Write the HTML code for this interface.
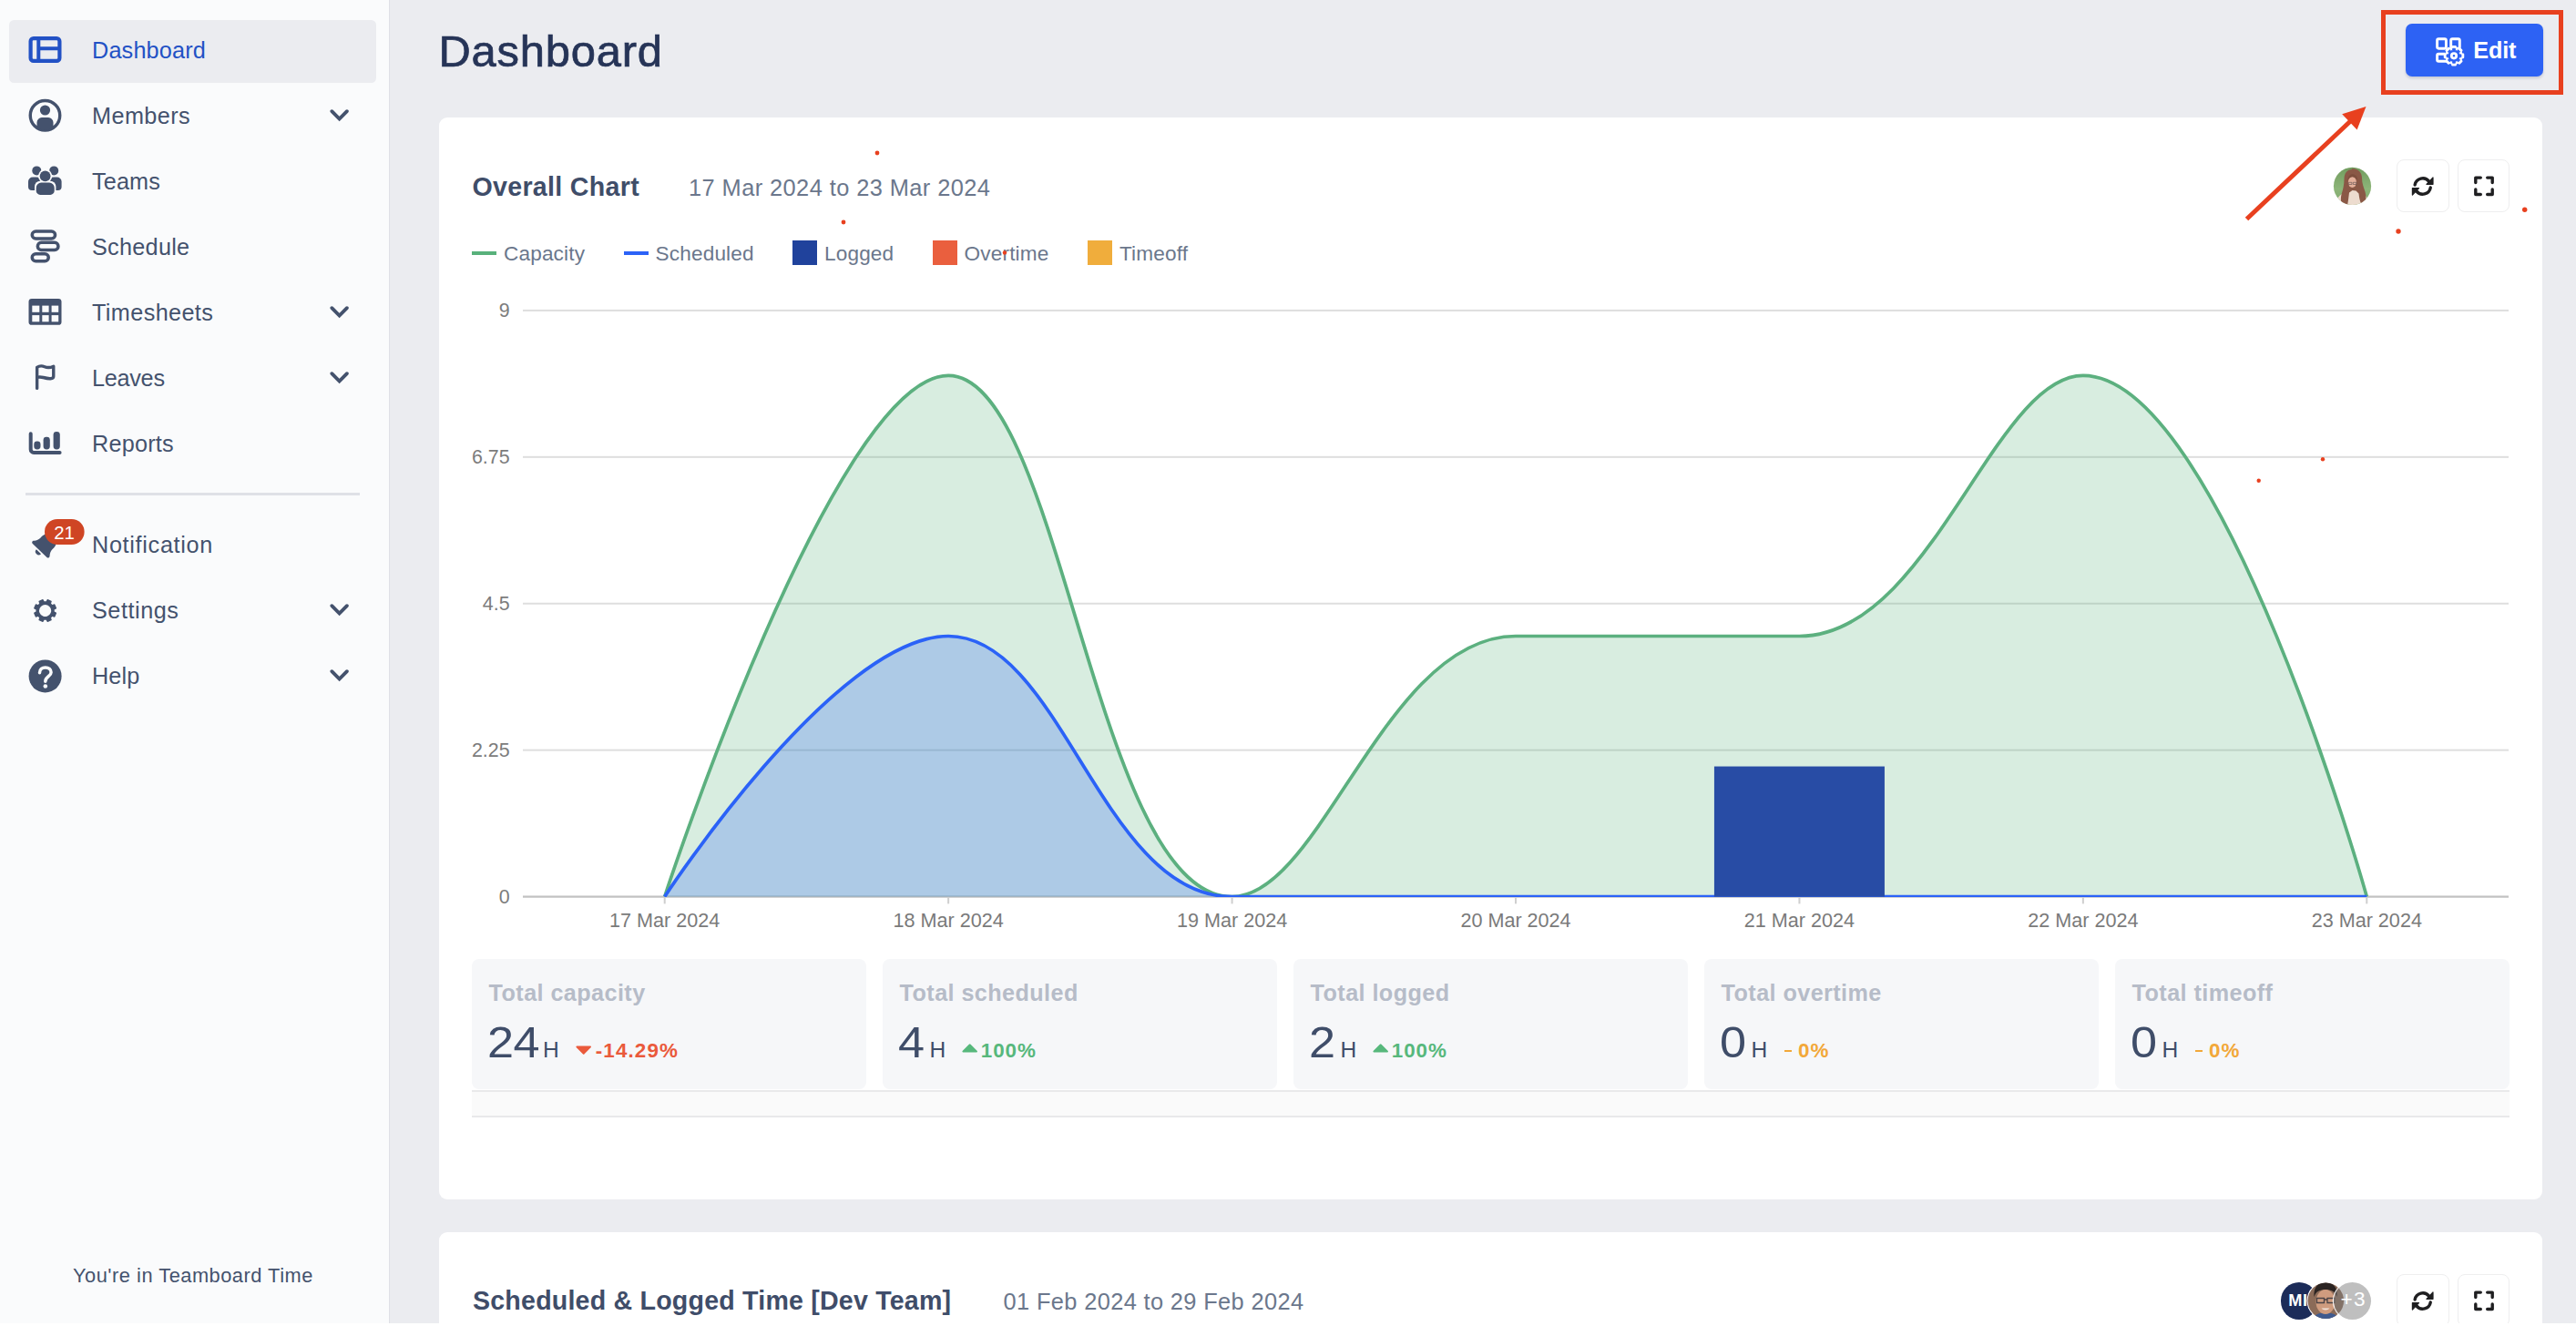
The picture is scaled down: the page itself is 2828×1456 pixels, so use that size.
<!DOCTYPE html>
<html lang="en"><head><meta charset="utf-8"><title>Dashboard</title><style>
html,body{margin:0;padding:0}
body{width:2828px;height:1456px;overflow:hidden;background:#ebecf0;position:relative;font-family:"Liberation Sans",sans-serif;}
.t{position:absolute;white-space:nowrap}
.b{position:absolute}
svg{position:absolute;overflow:visible}
</style></head><body>
<div class="b" style="left:0px;top:0px;width:427px;height:1456px;background:#fafbfc;border-right:1px solid #dfe0e6;"></div>
<div class="b" style="left:10px;top:22px;width:403px;height:69px;background:#ebecf0;border-radius:5.5px;"></div>
<div class="t " style="top:43.17px;font-size:25.2px;line-height:25.2px;color:#2251c5;left:101.00px;letter-spacing:0.2px;">Dashboard</div>
<div class="t " style="top:115.17px;font-size:25.2px;line-height:25.2px;color:#44526d;left:101.00px;letter-spacing:0.45px;">Members</div>
<svg style="left:360px;top:116.6px" width="26" height="20" viewBox="0 0 26 20"><path d="M4.3 5.2 L12.6 13.6 L20.9 5.2" fill="none" stroke="#44526d" stroke-width="3.9" stroke-linecap="round" stroke-linejoin="miter"/></svg>
<div class="t " style="top:187.17px;font-size:25.2px;line-height:25.2px;color:#44526d;left:101.00px;letter-spacing:0.15px;">Teams</div>
<div class="t " style="top:259.17px;font-size:25.2px;line-height:25.2px;color:#44526d;left:101.00px;letter-spacing:0.3px;">Schedule</div>
<div class="t " style="top:331.17px;font-size:25.2px;line-height:25.2px;color:#44526d;left:101.00px;letter-spacing:0.4px;">Timesheets</div>
<svg style="left:360px;top:332.6px" width="26" height="20" viewBox="0 0 26 20"><path d="M4.3 5.2 L12.6 13.6 L20.9 5.2" fill="none" stroke="#44526d" stroke-width="3.9" stroke-linecap="round" stroke-linejoin="miter"/></svg>
<div class="t " style="top:403.17px;font-size:25.2px;line-height:25.2px;color:#44526d;left:101.00px;letter-spacing:-0.25px;">Leaves</div>
<svg style="left:360px;top:404.6px" width="26" height="20" viewBox="0 0 26 20"><path d="M4.3 5.2 L12.6 13.6 L20.9 5.2" fill="none" stroke="#44526d" stroke-width="3.9" stroke-linecap="round" stroke-linejoin="miter"/></svg>
<div class="t " style="top:475.17px;font-size:25.2px;line-height:25.2px;color:#44526d;left:101.00px;letter-spacing:0.25px;">Reports</div>
<div class="t " style="top:586.17px;font-size:25.2px;line-height:25.2px;color:#44526d;left:101.00px;letter-spacing:0.7px;">Notification</div>
<div class="t " style="top:658.17px;font-size:25.2px;line-height:25.2px;color:#44526d;left:101.00px;letter-spacing:0.55px;">Settings</div>
<svg style="left:360px;top:659.6px" width="26" height="20" viewBox="0 0 26 20"><path d="M4.3 5.2 L12.6 13.6 L20.9 5.2" fill="none" stroke="#44526d" stroke-width="3.9" stroke-linecap="round" stroke-linejoin="miter"/></svg>
<div class="t " style="top:730.17px;font-size:25.2px;line-height:25.2px;color:#44526d;left:101.00px;letter-spacing:0.15px;">Help</div>
<svg style="left:360px;top:731.6px" width="26" height="20" viewBox="0 0 26 20"><path d="M4.3 5.2 L12.6 13.6 L20.9 5.2" fill="none" stroke="#44526d" stroke-width="3.9" stroke-linecap="round" stroke-linejoin="miter"/></svg>
<div class="b" style="left:28px;top:541px;width:367px;height:3px;background:#dfe1e6;"></div>
<svg style="left:30px;top:38px" width="40" height="34" viewBox="30 38 40 34"><rect x="33.6" y="42.1" width="31.8" height="24.8" rx="3.2" fill="none" stroke="#2251c5" stroke-width="4.2"/><path d="M42.3 42v25M42.3 53.2H65.4" fill="none" stroke="#2251c5" stroke-width="4"/></svg>
<svg style="left:30px;top:106px" width="40" height="42" viewBox="30 106 40 42"><defs><clipPath id="mc"><circle cx="49.5" cy="126.7" r="16"/></clipPath></defs><circle cx="49.5" cy="126.7" r="16.25" fill="none" stroke="#44526d" stroke-width="3.4"/><circle cx="49.5" cy="121" r="5.6" fill="#44526d"/><path clip-path="url(#mc)" d="M40.5 146V134.5a5.4 5.4 0 0 1 5.4-5.4h7.2a5.4 5.4 0 0 1 5.4 5.4V146z" fill="#44526d"/></svg>
<svg style="left:28px;top:180px" width="44" height="38" viewBox="28 180 44 38"><circle cx="40.3" cy="187.4" r="5" fill="#44526d"/><path d="M31 205V199.6a5 5 0 0 1 5-5H40a5 5 0 0 1 5 5V205a4.0 4.0 0 0 1 -4.0 4.0H35.0a4.0 4.0 0 0 1 -4.0 -4.0z" fill="#44526d"/><circle cx="59.2" cy="187.4" r="5" fill="#44526d"/><path d="M54 205V199.6a5 5 0 0 1 5-5H62.599999999999994a5 5 0 0 1 5 5V205a4.0 4.0 0 0 1 -4.0 4.0H58.0a4.0 4.0 0 0 1 -4.0 -4.0z" fill="#44526d"/><circle cx="49.6" cy="193.3" r="7.6" fill="#fafbfc"/><rect x="38" y="198.8" width="23.4" height="18" rx="6" fill="#fafbfc"/><circle cx="49.6" cy="193.3" r="5.9" fill="#44526d"/><path d="M39.7 209.4V206.2a5.6 5.6 0 0 1 5.6-5.6H54.1a5.6 5.6 0 0 1 5.6 5.6V209.4a4.4799999999999995 4.4799999999999995 0 0 1 -4.4799999999999995 4.4799999999999995H44.18a4.4799999999999995 4.4799999999999995 0 0 1 -4.4799999999999995 -4.4799999999999995z" fill="#44526d"/></svg>
<svg style="left:30px;top:250px" width="40" height="42" viewBox="30 250 40 42"><rect x="35.25" y="253.95" width="25.299999999999997" height="8.100000000000023" rx="4.050000000000011" fill="none" stroke="#44526d" stroke-width="3.5"/><rect x="41.35" y="266.35" width="22.6" height="8.099999999999966" rx="4.049999999999983" fill="none" stroke="#44526d" stroke-width="3.5"/><rect x="35.25" y="278.75" width="18.0" height="8.0" rx="4.0" fill="none" stroke="#44526d" stroke-width="3.5"/></svg>
<svg style="left:30px;top:326px" width="40" height="34" viewBox="30 326 40 34"><rect x="31.5" y="328" width="36" height="28.8" rx="3.4" fill="#44526d"/><rect x="35.3" y="335.6" width="8" height="7.2" fill="#fafbfc"/><rect x="46.3" y="335.6" width="7.3" height="7.2" fill="#fafbfc"/><rect x="56.6" y="335.6" width="7.6" height="7.2" fill="#fafbfc"/><rect x="35.3" y="346.1" width="8" height="7.2" fill="#fafbfc"/><rect x="46.3" y="346.1" width="7.3" height="7.2" fill="#fafbfc"/><rect x="56.6" y="346.1" width="7.6" height="7.2" fill="#fafbfc"/></svg>
<svg style="left:34px;top:398px" width="32" height="34" viewBox="34 398 32 34"><path d="M40.65 426.4V403.4C43 401.7 46 401.4 49 402.7C52 404 55.5 403.7 58.75 402.2V413.2C58.75 415.2 57.5 415.6 55.5 415.7C52.5 415.9 50 415.2 47.5 414.5C45 413.8 43 413.7 40.65 414.4" fill="none" stroke="#44526d" stroke-width="3.4" stroke-linecap="round" stroke-linejoin="round"/></svg>
<svg style="left:28px;top:470px" width="44" height="34" viewBox="28 470 44 34"><path d="M33.7 476.3V493.6a3.3 3.3 0 0 0 3.3 3.3H65.6" fill="none" stroke="#44526d" stroke-width="4" stroke-linecap="round"/><rect x="37.3" y="484.6" width="7.2" height="8.8" rx="3.4" fill="#44526d"/><rect x="47.6" y="479.8" width="7.2" height="13.6" rx="3.4" fill="#44526d"/><rect x="58.6" y="474" width="7.2" height="19.4" rx="3.4" fill="#44526d"/></svg>
<svg style="left:30px;top:566px" width="70" height="52" viewBox="30 566 70 52"><g transform="translate(43.6 604.5) rotate(44) scale(0.89) translate(-49 -612.4)"><path d="M49 584.6c-1.2 0-2.1 0.9-2.1 2.1v0.9c-4.8 1-8.1 5.2-8.1 10.200000000000001v2.5c0 3-1.1 5.9-3.1 8.1l-0.5 0.6c-0.5 0.6-0.7 1.5-0.3 2.2 0.3 0.8 1.1 1.2 1.9 1.2h24.4c0.8 0 1.6-0.5 1.9-1.2 0.3-0.8 0.2-1.6-0.3-2.2l-0.5-0.6c-2-2.2-3.1-5.1-3.1-8.1v-2.5c0-5-3.4-9.200000000000001-8.1-10.200000000000001v-0.9c0-1.2-0.9-2.1-2.1-2.1z" fill="#44526d"/><path d="M53 614.2a4 4 0 0 1 -8 0z" fill="#44526d"/></g><rect x="49" y="570" width="43.6" height="28" rx="14" fill="#cf4524"/></svg>
<div class="t " style="top:574.93px;font-size:20.4px;line-height:20.4px;color:#fff;left:-329.40px;width:800px;text-align:center;">21</div>
<svg style="left:34px;top:655px" width="32" height="32" viewBox="34 655 32 32"><path transform="rotate(22.5 49.6 670.5)" d="M47.54 658.68 L51.66 658.68 L51.82 661.26 L54.56 662.40 L56.50 660.68 L59.42 663.60 L57.70 665.54 L58.84 668.28 L61.42 668.44 L61.42 672.56 L58.84 672.72 L57.70 675.46 L59.42 677.40 L56.50 680.32 L54.56 678.60 L51.82 679.74 L51.66 682.32 L47.54 682.32 L47.38 679.74 L44.64 678.60 L42.70 680.32 L39.78 677.40 L41.50 675.46 L40.36 672.72 L37.78 672.56 L37.78 668.44 L40.36 668.28 L41.50 665.54 L39.78 663.60 L42.70 660.68 L44.64 662.40 L47.38 661.26Z M42.300000000000004 670.5a7.3 7.3 0 1 0 14.6 0a7.3 7.3 0 1 0 -14.6 0Z" fill="#44526d" fill-rule="evenodd" stroke="#44526d" stroke-width="1.5" stroke-linejoin="round"/></svg>
<svg style="left:30px;top:722px" width="40" height="40" viewBox="30 722 40 40"><circle cx="49.6" cy="742.4" r="18" fill="#44526d"/><path d="M43.5 738.7C43.5 735 46.3 732.9 49.8 732.9C53.4 732.9 56.1 735.1 56.1 738.3C56.1 742.7 49.8 742.9 49.8 748.3" fill="none" stroke="#fafbfc" stroke-width="3.5" stroke-linecap="round"/><circle cx="49.8" cy="753.5" r="2.3" fill="#fafbfc"/></svg>
<div class="t " style="top:1389.55px;font-size:21.8px;line-height:21.8px;color:#44526d;left:80.00px;letter-spacing:0.52px;">You're in Teamboard Time</div>
<div class="t " style="top:32.01px;font-size:48.9px;line-height:48.9px;color:#263457;left:481.40px;-webkit-text-stroke:0.7px #263457;letter-spacing:0.8px;">Dashboard</div>
<div class="b" style="left:482px;top:129px;width:2309px;height:1188px;background:#fff;border-radius:9px;"></div>
<div class="b" style="left:482px;top:1353px;width:2309px;height:147px;background:#fff;border-radius:9px;"></div>
<div class="b" style="left:2641px;top:26px;width:151px;height:58px;background:#2d62f4;border-radius:7px;box-shadow:0 2px 3px rgba(30,40,90,0.18);"></div>
<div class="t " style="top:42.67px;font-size:25.2px;line-height:25.2px;color:#fff;font-weight:700;left:2715.20px;letter-spacing:-0.1px;">Edit</div>
<svg style="left:2670px;top:38px" width="40" height="38" viewBox="2670 38 40 38"><g fill="none" stroke="#fff" stroke-width="2.9" stroke-linejoin="round"><rect x="2675.6" y="42.7" width="9.8" height="10.5" rx="1.6"/><rect x="2690.7" y="42.7" width="9.6" height="10.5" rx="1.6"/><path d="M2684.5 59.2H2677.2a1.6 1.6 0 0 0 -1.6 1.6V65.7a1.6 1.6 0 0 0 1.6 1.6H2686"/></g><path d="M2692.23 51.15 L2695.77 51.15 L2696.03 52.84 L2698.55 53.88 L2699.92 52.87 L2702.43 55.38 L2701.42 56.75 L2702.46 59.27 L2704.15 59.53 L2704.15 63.07 L2702.46 63.33 L2701.42 65.85 L2702.43 67.22 L2699.92 69.73 L2698.55 68.72 L2696.03 69.76 L2695.77 71.45 L2692.23 71.45 L2691.97 69.76 L2689.45 68.72 L2688.08 69.73 L2685.57 67.22 L2686.58 65.85 L2685.54 63.33 L2683.85 63.07 L2683.85 59.53 L2685.54 59.27 L2686.58 56.75 L2685.57 55.38 L2688.08 52.87 L2689.45 53.88 L2691.97 52.84Z M2693.99 61.3a0.01 0.01 0 1 0 0.02 0a0.01 0.01 0 1 0 -0.02 0Z" fill="#fff" stroke="#fff" stroke-width="2.2" stroke-linejoin="round"/><path d="M2692.61 53.32 L2695.39 53.32 L2695.47 55.17 L2697.29 55.93 L2698.66 54.67 L2700.63 56.64 L2699.37 58.01 L2700.13 59.83 L2701.98 59.91 L2701.98 62.69 L2700.13 62.77 L2699.37 64.59 L2700.63 65.96 L2698.66 67.93 L2697.29 66.67 L2695.47 67.43 L2695.39 69.28 L2692.61 69.28 L2692.53 67.43 L2690.71 66.67 L2689.34 67.93 L2687.37 65.96 L2688.63 64.59 L2687.87 62.77 L2686.02 62.69 L2686.02 59.91 L2687.87 59.83 L2688.63 58.01 L2687.37 56.64 L2689.34 54.67 L2690.71 55.93 L2692.53 55.17Z M2693.99 61.3a0.01 0.01 0 1 0 0.02 0a0.01 0.01 0 1 0 -0.02 0Z" fill="#2d62f4" stroke="#2d62f4" stroke-width="0.8" stroke-linejoin="round"/><circle cx="2694.0" cy="61.3" r="2.7" fill="none" stroke="#fff" stroke-width="2.8"/></svg>
<div class="t " style="top:190.79px;font-size:28.6px;line-height:28.6px;color:#3f4d69;font-weight:700;left:518.50px;letter-spacing:0.3px;">Overall Chart</div>
<div class="t " style="top:193.50px;font-size:25.4px;line-height:25.4px;color:#6b778c;left:756.00px;letter-spacing:0.42px;">17 Mar 2024 to 23 Mar 2024</div>
<div class="b" style="left:518px;top:275.8px;width:27px;height:4.399999999999977px;background:#58b17b;"></div>
<div class="t " style="top:267.87px;font-size:22.6px;line-height:22.6px;color:#6b778c;left:553.00px;letter-spacing:0.15px;">Capacity</div>
<div class="b" style="left:685px;top:275.8px;width:27px;height:4.399999999999977px;background:#2b62f7;"></div>
<div class="t " style="top:267.87px;font-size:22.6px;line-height:22.6px;color:#6b778c;left:719.60px;letter-spacing:0.15px;">Scheduled</div>
<div class="b" style="left:870px;top:264px;width:27px;height:27px;background:#20429c;"></div>
<div class="t " style="top:267.87px;font-size:22.6px;line-height:22.6px;color:#6b778c;left:905.00px;letter-spacing:0.15px;">Logged</div>
<div class="b" style="left:1024px;top:264px;width:27px;height:27px;background:#ea5f3e;"></div>
<div class="t " style="top:267.87px;font-size:22.6px;line-height:22.6px;color:#6b778c;left:1058.60px;letter-spacing:0.15px;">Overtime</div>
<div class="b" style="left:1194px;top:264px;width:27px;height:27px;background:#f0ad3c;"></div>
<div class="t " style="top:267.87px;font-size:22.6px;line-height:22.6px;color:#6b778c;left:1229.00px;letter-spacing:0.15px;">Timeoff</div>
<div class="b" style="left:2631px;top:175px;width:58px;height:58px;background:#fff;border:1.4px solid #eeeeef;border-radius:8px;box-sizing:border-box;"></div>
<div class="b" style="left:2698px;top:175px;width:57px;height:58px;background:#fff;border:1.4px solid #eeeeef;border-radius:8px;box-sizing:border-box;"></div>
<svg style="left:2640px;top:185px" width="40" height="40" viewBox="2640 185 40 40"><g fill="none" stroke="#1f1f21" stroke-width="3.4" stroke-linecap="round"><path d="M2651.13 202.99A8.7 8.7 0 0 1 2666.56 199.14"/><path d="M2668.27 206.01A8.7 8.7 0 0 1 2652.84 209.86"/></g><path d="M2671.0 194.9V202.3H2663.8999999999996Z" fill="#1f1f21" stroke="#1f1f21" stroke-width="1.2" stroke-linejoin="round"/><path d="M2648.3999999999996 214.1V206.7H2655.5Z" fill="#1f1f21" stroke="#1f1f21" stroke-width="1.2" stroke-linejoin="round"/></svg>
<svg style="left:2706px;top:185px" width="40" height="40" viewBox="2706 185 40 40"><g fill="none" stroke="#1f1f21" stroke-width="3.4" stroke-linejoin="round" stroke-linecap="round"><path d="M2717.8 200.60000000000002V195.10000000000002H2723.3"/><path d="M2717.8 208.0V213.5H2723.3"/><path d="M2736.2 200.60000000000002V195.10000000000002H2730.7"/><path d="M2736.2 208.0V213.5H2730.7"/></g></svg>
<svg style="left:2560px;top:182px" width="46" height="46" viewBox="2560 182 46 46"><defs><clipPath id="av1"><circle cx="2582.5" cy="204.4" r="20.6"/></clipPath><linearGradient id="avg" x1="0" y1="0" x2="0" y2="1"><stop offset="0" stop-color="#6f9a5c"/><stop offset="0.55" stop-color="#8db579"/><stop offset="1" stop-color="#7fa86c"/></linearGradient></defs><g clip-path="url(#av1)"><rect x="2560" y="182" width="46" height="46" fill="url(#avg)"/><path d="M2564 228c0-9 4-14 9-16l6-3h8l6 3c5 2 7 7 8 16z" fill="#eddccf"/><path d="M2582.500 186c-6 0-9 4.500-9 10.500 0 7-1.500 12-3 17-1 4-1 9 1.500 13l5-1c1-5 1.500-10 2-14l3.500-2.500 4 0.500 3 3c0.500 4 1 8 3 12l4-2c1.500-4 1-8 0-12-1.500-5-3.500-9-3.500-15 0-6-4-10.500-11.500-10.500z" fill="#8a5846"/><ellipse cx="2582.400" cy="200" rx="4.500" ry="5.900" fill="#e4b09b"/><path d="M2577 198.500c0.500-4.500 2.500-7 5.500-7.500 3.500 0.500 5.500 2.500 6 7-2-2.500-4-3.800-6-3.800s-3.800 1.300-5.500 4.300z" fill="#7e4f3e"/><path d="M2578.300 200.300h3.600v2.200h-3.600zM2583.300 200.300h3.600v2.200h-3.600z" fill="none" stroke="#6b5a58" stroke-width="0.700"/></g></svg>
<svg style="left:0;top:0" width="2828" height="1456" viewBox="0 0 2828 1456" font-family="Liberation Sans, sans-serif"><rect x="574" y="339.90" width="2180" height="2" fill="#dedede"/><text x="559.6" y="348.00" text-anchor="end" font-size="21.4" fill="#7c7c7c">9</text><rect x="574" y="500.82" width="2180" height="2" fill="#dedede"/><text x="559.6" y="508.93" text-anchor="end" font-size="21.4" fill="#7c7c7c">6.75</text><rect x="574" y="661.75" width="2180" height="2" fill="#dedede"/><text x="559.6" y="669.85" text-anchor="end" font-size="21.4" fill="#7c7c7c">4.5</text><rect x="574" y="822.67" width="2180" height="2" fill="#dedede"/><text x="559.6" y="830.77" text-anchor="end" font-size="21.4" fill="#7c7c7c">2.25</text><rect x="574" y="983.60" width="2180" height="2" fill="#dedede"/><text x="559.6" y="991.70" text-anchor="end" font-size="21.4" fill="#7c7c7c">0</text><rect x="574" y="983.60" width="2180" height="2" fill="#c2c2c2"/><rect x="728.71" y="984.60" width="2" height="7.8" fill="#cfcfcf"/><text x="729.71" y="1018" text-anchor="middle" font-size="21.6" fill="#7a7a7a">17 Mar 2024</text><rect x="1040.14" y="984.60" width="2" height="7.8" fill="#cfcfcf"/><text x="1041.14" y="1018" text-anchor="middle" font-size="21.6" fill="#7a7a7a">18 Mar 2024</text><rect x="1351.57" y="984.60" width="2" height="7.8" fill="#cfcfcf"/><text x="1352.57" y="1018" text-anchor="middle" font-size="21.6" fill="#7a7a7a">19 Mar 2024</text><rect x="1663.00" y="984.60" width="2" height="7.8" fill="#cfcfcf"/><text x="1664.00" y="1018" text-anchor="middle" font-size="21.6" fill="#7a7a7a">20 Mar 2024</text><rect x="1974.43" y="984.60" width="2" height="7.8" fill="#cfcfcf"/><text x="1975.43" y="1018" text-anchor="middle" font-size="21.6" fill="#7a7a7a">21 Mar 2024</text><rect x="2285.86" y="984.60" width="2" height="7.8" fill="#cfcfcf"/><text x="2286.86" y="1018" text-anchor="middle" font-size="21.6" fill="#7a7a7a">22 Mar 2024</text><rect x="2597.29" y="984.60" width="2" height="7.8" fill="#cfcfcf"/><text x="2598.29" y="1018" text-anchor="middle" font-size="21.6" fill="#7a7a7a">23 Mar 2024</text><defs><clipPath id="ca"><rect x="574" y="338.9" width="2180" height="646.00"/></clipPath></defs><g clip-path="url(#ca)"><path d="M729.71 984.60 C729.71 984.60 916.57 412.42 1041.14 412.42 C1165.71 412.42 1201.50 984.60 1352.57 984.60 C1450.64 984.60 1520.52 698.51 1664.00 698.51 C1769.66 698.51 1869.77 698.51 1975.43 698.51 C2118.91 698.51 2188.79 412.42 2286.86 412.42 C2437.93 412.42 2598.29 984.60 2598.29 984.60 L2598.29 984.6 L729.71 984.6 Z" fill="rgba(88,177,123,0.235)"/><path d="M729.71 984.60 C729.71 984.60 916.57 412.42 1041.14 412.42 C1165.71 412.42 1201.50 984.60 1352.57 984.60 C1450.64 984.60 1520.52 698.51 1664.00 698.51 C1769.66 698.51 1869.77 698.51 1975.43 698.51 C2118.91 698.51 2188.79 412.42 2286.86 412.42 C2437.93 412.42 2598.29 984.60 2598.29 984.60" fill="none" stroke="#5cb07f" stroke-width="3.7"/><path d="M729.71 984.60 C729.71 984.60 916.57 698.51 1041.14 698.51 C1165.71 698.51 1209.09 984.60 1352.57 984.60 C1458.23 984.60 1539.43 984.60 1664.00 984.60 C1788.57 984.60 1850.86 984.60 1975.43 984.60 C2100.00 984.60 2162.29 984.60 2286.86 984.60 C2411.43 984.60 2598.29 984.60 2598.29 984.60 L2598.29 984.6 L729.71 984.6 Z" fill="rgba(43,98,247,0.25)"/><path d="M729.71 984.60 C729.71 984.60 916.57 698.51 1041.14 698.51 C1165.71 698.51 1209.09 984.60 1352.57 984.60 C1458.23 984.60 1539.43 984.60 1664.00 984.60 C1788.57 984.60 1850.86 984.60 1975.43 984.60 C2100.00 984.60 2162.29 984.60 2286.86 984.60 C2411.43 984.60 2598.29 984.60 2598.29 984.60" fill="none" stroke="#2b62f7" stroke-width="3.7"/><rect x="1881.93" y="841.56" width="187" height="143.04" fill="#284ca5"/></g></svg>
<div class="b" style="left:518px;top:1053px;width:433px;height:142.70000000000005px;background:#f6f7f9;border-radius:8px;"></div>
<div class="t " style="top:1078.27px;font-size:25.2px;line-height:25.2px;color:#b6bcc8;font-weight:700;left:536.60px;letter-spacing:0.42px;">Total capacity</div>
<div class="t " style="top:1121.29px;font-size:47.5px;line-height:47.5px;color:#3f4d69;left:535.00px;letter-spacing:-0.5px;transform:scaleX(1.1);transform-origin:0 0;">24</div>
<div class="t " style="top:1140.68px;font-size:24.6px;line-height:24.6px;color:#3f4d69;left:596.10px;">H</div>
<svg style="left:631.5000000000001px;top:1146.8px" width="18" height="12" viewBox="0 0 18 12"><path d="M1.2 1.6H16.2a0.8 0.8 0 0 1 0.6 1.3L9.6 10.300000000000001a1.2 1.2 0 0 1 -1.8 0L0.6 2.9a0.8 0.8 0 0 1 0.6-1.3z" fill="#ea5a3c"/></svg>
<div class="t " style="top:1142.54px;font-size:22.4px;line-height:22.4px;color:#ea5a3c;font-weight:700;left:653.70px;letter-spacing:1.15px;">-14.29%</div>
<div class="b" style="left:969px;top:1053px;width:433px;height:142.70000000000005px;background:#f6f7f9;border-radius:8px;"></div>
<div class="t " style="top:1078.27px;font-size:25.2px;line-height:25.2px;color:#b6bcc8;font-weight:700;left:987.60px;letter-spacing:0.42px;">Total scheduled</div>
<div class="t " style="top:1121.29px;font-size:47.5px;line-height:47.5px;color:#3f4d69;left:986.00px;letter-spacing:-0.5px;transform:scaleX(1.1);transform-origin:0 0;">4</div>
<div class="t " style="top:1140.68px;font-size:24.6px;line-height:24.6px;color:#3f4d69;left:1020.50px;">H</div>
<svg style="left:1055.8999999999999px;top:1144.500px" width="18" height="12" viewBox="0 0 18 12"><path d="M1.2 10.4H16.2a0.8 0.8 0 0 0 0.6-1.3L9.6 1.7a1.2 1.2 0 0 0 -1.8 0L0.6 9.1a0.8 0.8 0 0 0 0.6 1.3z" fill="#57b87c"/></svg>
<div class="t " style="top:1142.54px;font-size:22.4px;line-height:22.4px;color:#57b87c;font-weight:700;left:1076.70px;letter-spacing:1.0px;">100%</div>
<div class="b" style="left:1420px;top:1053px;width:433px;height:142.70000000000005px;background:#f6f7f9;border-radius:8px;"></div>
<div class="t " style="top:1078.27px;font-size:25.2px;line-height:25.2px;color:#b6bcc8;font-weight:700;left:1438.60px;letter-spacing:0.42px;">Total logged</div>
<div class="t " style="top:1121.29px;font-size:47.5px;line-height:47.5px;color:#3f4d69;left:1437.00px;letter-spacing:-0.5px;transform:scaleX(1.1);transform-origin:0 0;">2</div>
<div class="t " style="top:1140.68px;font-size:24.6px;line-height:24.6px;color:#3f4d69;left:1471.50px;">H</div>
<svg style="left:1506.9px;top:1144.500px" width="18" height="12" viewBox="0 0 18 12"><path d="M1.2 10.4H16.2a0.8 0.8 0 0 0 0.6-1.3L9.6 1.7a1.2 1.2 0 0 0 -1.8 0L0.6 9.1a0.8 0.8 0 0 0 0.6 1.3z" fill="#57b87c"/></svg>
<div class="t " style="top:1142.54px;font-size:22.4px;line-height:22.4px;color:#57b87c;font-weight:700;left:1527.70px;letter-spacing:1.0px;">100%</div>
<div class="b" style="left:1871px;top:1053px;width:433px;height:142.70000000000005px;background:#f6f7f9;border-radius:8px;"></div>
<div class="t " style="top:1078.27px;font-size:25.2px;line-height:25.2px;color:#b6bcc8;font-weight:700;left:1889.60px;letter-spacing:0.42px;">Total overtime</div>
<div class="t " style="top:1121.29px;font-size:47.5px;line-height:47.5px;color:#3f4d69;left:1888.00px;letter-spacing:-0.5px;transform:scaleX(1.1);transform-origin:0 0;">0</div>
<div class="t " style="top:1140.68px;font-size:24.6px;line-height:24.6px;color:#3f4d69;left:1922.50px;">H</div>
<div class="b" style="left:1958.9px;top:1152.6px;width:8.400000000000091px;height:2.400000000000091px;background:#f2a83a;"></div>
<div class="t " style="top:1142.54px;font-size:22.4px;line-height:22.4px;color:#f2a83a;font-weight:700;left:1974.10px;letter-spacing:1.0px;">0%</div>
<div class="b" style="left:2322px;top:1053px;width:433px;height:142.70000000000005px;background:#f6f7f9;border-radius:8px;"></div>
<div class="t " style="top:1078.27px;font-size:25.2px;line-height:25.2px;color:#b6bcc8;font-weight:700;left:2340.60px;letter-spacing:0.42px;">Total timeoff</div>
<div class="t " style="top:1121.29px;font-size:47.5px;line-height:47.5px;color:#3f4d69;left:2339.00px;letter-spacing:-0.5px;transform:scaleX(1.1);transform-origin:0 0;">0</div>
<div class="t " style="top:1140.68px;font-size:24.6px;line-height:24.6px;color:#3f4d69;left:2373.50px;">H</div>
<div class="b" style="left:2409.8999999999996px;top:1152.6px;width:8.400000000000091px;height:2.400000000000091px;background:#f2a83a;"></div>
<div class="t " style="top:1142.54px;font-size:22.4px;line-height:22.4px;color:#f2a83a;font-weight:700;left:2425.10px;letter-spacing:1.0px;">0%</div>
<div class="b" style="left:518px;top:1197px;width:2237px;height:30px;background:#fafafa;border-top:2px solid #e9e9ea;border-bottom:2px solid #e9e9ea;box-sizing:border-box;"></div>
<div class="t " style="top:1414.39px;font-size:28.6px;line-height:28.6px;color:#3f4d69;font-weight:700;left:519.00px;letter-spacing:0.2px;">Scheduled &amp; Logged Time [Dev Team]</div>
<div class="t " style="top:1417.10px;font-size:25.4px;line-height:25.4px;color:#6b778c;left:1101.60px;letter-spacing:0.36px;">01 Feb 2024 to 29 Feb 2024</div>
<div class="b" style="left:2631px;top:1399px;width:58px;height:58px;background:#fff;border:1.4px solid #eeeeef;border-radius:8px;box-sizing:border-box;"></div>
<div class="b" style="left:2698px;top:1399px;width:57px;height:58px;background:#fff;border:1.4px solid #eeeeef;border-radius:8px;box-sizing:border-box;"></div>
<svg style="left:2640px;top:1409px" width="40" height="40" viewBox="2640 1409 40 40"><g fill="none" stroke="#1f1f21" stroke-width="3.4" stroke-linecap="round"><path d="M2651.13 1426.99A8.7 8.7 0 0 1 2666.56 1423.14"/><path d="M2668.27 1430.01A8.7 8.7 0 0 1 2652.84 1433.86"/></g><path d="M2671.0 1418.9V1426.3H2663.8999999999996Z" fill="#1f1f21" stroke="#1f1f21" stroke-width="1.2" stroke-linejoin="round"/><path d="M2648.3999999999996 1438.1V1430.7H2655.5Z" fill="#1f1f21" stroke="#1f1f21" stroke-width="1.2" stroke-linejoin="round"/></svg>
<svg style="left:2706px;top:1409px" width="40" height="40" viewBox="2706 1409 40 40"><g fill="none" stroke="#1f1f21" stroke-width="3.4" stroke-linejoin="round" stroke-linecap="round"><path d="M2717.8 1424.6V1419.1H2723.3"/><path d="M2717.8 1432.0V1437.5H2723.3"/><path d="M2736.2 1424.6V1419.1H2730.7"/><path d="M2736.2 1432.0V1437.5H2730.7"/></g></svg>
<div class="b" style="left:2503.900px;top:1408px;width:40.600px;height:40.600px;border-radius:50%;background:#1c2c59;"></div>
<div class="t " style="top:1419.29px;font-size:18.2px;line-height:18.2px;color:#fff;font-weight:700;left:2512.20px;letter-spacing:0.6px;">MI</div>
<svg style="left:2530px;top:1405px" width="46" height="46" viewBox="2530 1405 46 46"><defs><clipPath id="av2"><circle cx="2553.300" cy="1428.300" r="19.800"/></clipPath></defs><circle cx="2553.300" cy="1428.300" r="20.800" fill="#fff"/><g clip-path="url(#av2)"><rect x="2530" y="1405" width="46" height="46" fill="#8b6b58"/><path d="M2538 1451c1-6 5-8 9-9h12c5 1 8 3 9 9z" fill="#3f5a8e"/><ellipse cx="2553" cy="1429.500" rx="10.500" ry="13.500" fill="#cf9c7f"/><path d="M2540.500 1424c-1-11 5-16 12.500-16s14 5 12.500 16c-2-6-6-8-12.500-8s-10.500 2-12.500 8z" fill="#2a2321"/><path d="M2543.500 1425.500h8v5h-8zM2555 1425.500h8v5h-8zM2551.500 1427h3.500" fill="none" stroke="#4a4346" stroke-width="1.300"/><path d="M2548.500 1436.500c2 2.500 7 2.500 9 0z" fill="#f2e3da"/></g></svg>
<div class="b" style="left:2561.700px;top:1407.800px;width:41px;height:41px;border-radius:50%;background:rgba(122,122,122,0.48);box-shadow:0 0 0 1.2px rgba(255,255,255,0.9);"></div>
<div class="t " style="top:1416.07px;font-size:22.6px;line-height:22.6px;color:#fff;left:2569.60px;letter-spacing:1.2px;">+3</div>
<div class="b" style="left:2614px;top:11px;width:200px;height:92.500px;border:5.500px solid #e8401f;box-sizing:border-box;"></div>
<svg style="left:0;top:0" width="2828" height="400" viewBox="0 0 2828 400"><path d="M2466.5 240.500L2582 131.500" stroke="#e8401f" stroke-width="5" fill="none"/><path d="M2597.5 117L2587.6 142.600L2571.200 125.200Z" fill="#e8401f"/><circle cx="2771.7" cy="230.3" r="2.7" fill="#e8401f"/><circle cx="2633" cy="254" r="2.7" fill="#e8401f"/><circle cx="963" cy="168" r="2.4" fill="#e8401f"/><circle cx="926" cy="244" r="2.4" fill="#e8401f"/><circle cx="1103" cy="277.5" r="2.2" fill="#e8401f"/><circle cx="2479.7" cy="527.7" r="2.2" fill="#e8401f"/><circle cx="2550" cy="504.3" r="2.2" fill="#e8401f"/></svg>
<div class="b" style="left:0px;top:1453px;width:2828px;height:3px;background:#fff;z-index:50;"></div>
</body></html>
